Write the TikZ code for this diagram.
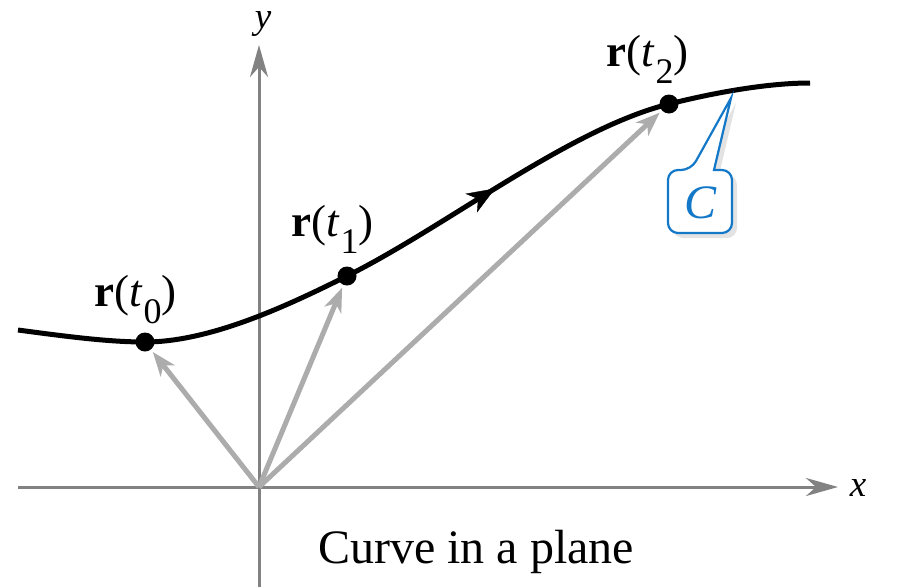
\documentclass[tikz,border=0pt]{standalone}
\usepackage{fontspec}
\setmainfont{Liberation Serif}
\usetikzlibrary{arrows.meta,decorations.markings,shadows}
\definecolor{axisgray}{RGB}{130,130,130}
\definecolor{vecgray}{RGB}{172,172,172}
\definecolor{callblue}{RGB}{20,120,200}
\newcommand{\rlab}[1]{{\bfseries r}(\textit{t}\kern1pt\raisebox{-0.85ex}{\fontsize{36}{40}\selectfont #1})}
\tikzset{
  axisline/.style={draw=axisgray, line width=3pt, -{Stealth[length=32pt,width=18pt,inset=10pt]}},
  vec/.style={draw=vecgray, line width=5pt, shorten >=3pt, -{Stealth[length=24pt,width=18pt,inset=7pt]}},
  curveline/.style={draw=black, line width=5pt},
  dot/.style={circle, fill=black, inner sep=0pt, minimum size=19pt},
  lab/.style={font=\fontsize{45}{50}\selectfont, anchor=base west, inner sep=0pt},
  axlab/.style={font=\fontsize{37}{42}\selectfont\itshape, inner sep=0pt, anchor=base},
}
\begin{document}
\begin{tikzpicture}[x=1pt,y=-1pt]
\useasboundingbox (0,0) rectangle (897,587);
% axes
\coordinate (xs) at (18,487);
\coordinate (xe) at (838,487);
\coordinate (ys) at (259,587);
\coordinate (ye) at (259,45);
\coordinate (O) at (259,487);
\draw[axisline] (xs) -- (xe);
\draw[axisline] (ys) -- (ye);
\node[axlab] (xl) at (858,496) {x};
\node[axlab] (yl) at (263,28) {y};
% curve
\coordinate (S) at (18,330);
\coordinate (E) at (810,83);
\draw[curveline] (S) .. controls (70,337) and (110,342) .. (145,342)
  .. controls (210,342) and (287,306) .. (347,276)
  .. controls (447,226) and (569,129) .. (669,104)
  .. controls (719,91.5) and (770,83) .. (E);
\path[decoration={markings, mark=at position 0.47 with {\arrow{Stealth[length=28pt,width=22pt,inset=8pt]}}}, postaction=decorate]
  (347,276) .. controls (447,226) and (569,129) .. (669,104);
% points
\node[dot] (P0) at (145,342) {};
\node[dot] (P1) at (347,276) {};
\node[dot] (P2) at (669,104) {};
% vectors
\draw[vec] (O) -- (P0);
\draw[vec] (O) -- (P1);
\draw[vec] (O) -- (P2);
% labels
\node[lab] (L0) at (94,306) {\rlab{0}};
\node[lab] (L1) at (291,236) {\rlab{1}};
\node[lab] (L2) at (606,66) {\rlab{2}};
% callout
\draw[draw=callblue, line width=2.2pt, fill=white, line join=miter,
      drop shadow={opacity=0.22, shadow xshift=5pt, shadow yshift=-5pt}]
  (714,170) [rounded corners=10pt] -- (732,170) -- (732,233) -- (668,233) -- (668,170) -- (691,170) [sharp corners] -- (731,98) -- cycle;
\node[font=\fontsize{48}{52}\selectfont\itshape, text=callblue, inner sep=0pt] (C) at (700,203) {C};
% caption
\node[font=\fontsize{48}{54}\selectfont, inner sep=0pt, anchor=base] (cap) at (476,563) {Curve in a plane};
\end{tikzpicture}
\end{document}
